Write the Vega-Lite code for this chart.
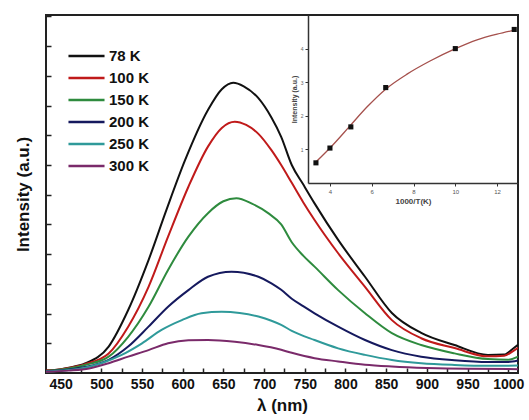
{
  "$schema": "https://vega.github.io/schema/vega-lite/v6.json",
  "width": 472,
  "height": 358,
  "autosize": {"type": "none"},
  "padding": {"left": 46, "top": 15, "right": 11, "bottom": 47},
  "background": "white",
  "config": {
    "view": {"stroke": "#222", "strokeWidth": 2},
    "font": "Liberation Sans"
  },
  "datasets": {
    "spectra": [
      {"T": "78 K", "wl": 432, "I": 0.08}, {"T": "78 K", "wl": 443, "I": 0.1}, {"T": "78 K", "wl": 460, "I": 0.18}, {"T": "78 K", "wl": 480, "I": 0.32}, {"T": "78 K", "wl": 509, "I": 0.89}, {"T": "78 K", "wl": 533, "I": 2.12}, {"T": "78 K", "wl": 558, "I": 3.8}, {"T": "78 K", "wl": 580, "I": 5.49}, {"T": "78 K", "wl": 603, "I": 7.17}, {"T": "78 K", "wl": 631, "I": 8.85}, {"T": "78 K", "wl": 648, "I": 9.55}, {"T": "78 K", "wl": 662, "I": 9.77}, {"T": "78 K", "wl": 675, "I": 9.65}, {"T": "78 K", "wl": 693, "I": 9.25}, {"T": "78 K", "wl": 709, "I": 8.6}, {"T": "78 K", "wl": 721, "I": 7.95}, {"T": "78 K", "wl": 734, "I": 7.0}, {"T": "78 K", "wl": 748, "I": 6.35}, {"T": "78 K", "wl": 762, "I": 5.71}, {"T": "78 K", "wl": 791, "I": 4.48}, {"T": "78 K", "wl": 824, "I": 3.24}, {"T": "78 K", "wl": 857, "I": 2.02}, {"T": "78 K", "wl": 893, "I": 1.35}, {"T": "78 K", "wl": 934, "I": 0.94}, {"T": "78 K", "wl": 975, "I": 0.61}, {"T": "78 K", "wl": 995, "I": 0.62}, {"T": "78 K", "wl": 1005, "I": 0.8}, {"T": "78 K", "wl": 1012, "I": 0.95},
      {"T": "100 K", "wl": 432, "I": 0.08}, {"T": "100 K", "wl": 443, "I": 0.1}, {"T": "100 K", "wl": 460, "I": 0.17}, {"T": "100 K", "wl": 480, "I": 0.3}, {"T": "100 K", "wl": 509, "I": 0.66}, {"T": "100 K", "wl": 533, "I": 1.56}, {"T": "100 K", "wl": 558, "I": 2.9}, {"T": "100 K", "wl": 582, "I": 4.59}, {"T": "100 K", "wl": 607, "I": 6.27}, {"T": "100 K", "wl": 631, "I": 7.62}, {"T": "100 K", "wl": 648, "I": 8.25}, {"T": "100 K", "wl": 664, "I": 8.46}, {"T": "100 K", "wl": 678, "I": 8.35}, {"T": "100 K", "wl": 693, "I": 8.05}, {"T": "100 K", "wl": 709, "I": 7.5}, {"T": "100 K", "wl": 721, "I": 7.0}, {"T": "100 K", "wl": 734, "I": 6.4}, {"T": "100 K", "wl": 748, "I": 5.75}, {"T": "100 K", "wl": 762, "I": 5.15}, {"T": "100 K", "wl": 791, "I": 4.03}, {"T": "100 K", "wl": 824, "I": 2.9}, {"T": "100 K", "wl": 857, "I": 1.78}, {"T": "100 K", "wl": 893, "I": 1.17}, {"T": "100 K", "wl": 934, "I": 0.84}, {"T": "100 K", "wl": 975, "I": 0.56}, {"T": "100 K", "wl": 995, "I": 0.58}, {"T": "100 K", "wl": 1005, "I": 0.72}, {"T": "100 K", "wl": 1012, "I": 0.85},
      {"T": "150 K", "wl": 432, "I": 0.07}, {"T": "150 K", "wl": 460, "I": 0.15}, {"T": "150 K", "wl": 480, "I": 0.27}, {"T": "150 K", "wl": 509, "I": 0.55}, {"T": "150 K", "wl": 533, "I": 1.22}, {"T": "150 K", "wl": 558, "I": 2.23}, {"T": "150 K", "wl": 582, "I": 3.47}, {"T": "150 K", "wl": 607, "I": 4.59}, {"T": "150 K", "wl": 631, "I": 5.38}, {"T": "150 K", "wl": 650, "I": 5.78}, {"T": "150 K", "wl": 666, "I": 5.88}, {"T": "150 K", "wl": 685, "I": 5.7}, {"T": "150 K", "wl": 705, "I": 5.38}, {"T": "150 K", "wl": 721, "I": 5.0}, {"T": "150 K", "wl": 734, "I": 4.4}, {"T": "150 K", "wl": 748, "I": 3.95}, {"T": "150 K", "wl": 762, "I": 3.58}, {"T": "150 K", "wl": 791, "I": 2.79}, {"T": "150 K", "wl": 824, "I": 2.01}, {"T": "150 K", "wl": 857, "I": 1.34}, {"T": "150 K", "wl": 893, "I": 0.94}, {"T": "150 K", "wl": 934, "I": 0.66}, {"T": "150 K", "wl": 975, "I": 0.47}, {"T": "150 K", "wl": 1000, "I": 0.45}, {"T": "150 K", "wl": 1012, "I": 0.55},
      {"T": "200 K", "wl": 432, "I": 0.06}, {"T": "200 K", "wl": 460, "I": 0.12}, {"T": "200 K", "wl": 480, "I": 0.2}, {"T": "200 K", "wl": 509, "I": 0.44}, {"T": "200 K", "wl": 533, "I": 0.89}, {"T": "200 K", "wl": 558, "I": 1.56}, {"T": "200 K", "wl": 582, "I": 2.23}, {"T": "200 K", "wl": 607, "I": 2.79}, {"T": "200 K", "wl": 631, "I": 3.24}, {"T": "200 K", "wl": 660, "I": 3.41}, {"T": "200 K", "wl": 693, "I": 3.24}, {"T": "200 K", "wl": 709, "I": 3.02}, {"T": "200 K", "wl": 721, "I": 2.8}, {"T": "200 K", "wl": 734, "I": 2.5}, {"T": "200 K", "wl": 748, "I": 2.25}, {"T": "200 K", "wl": 762, "I": 2.01}, {"T": "200 K", "wl": 791, "I": 1.56}, {"T": "200 K", "wl": 824, "I": 1.11}, {"T": "200 K", "wl": 857, "I": 0.77}, {"T": "200 K", "wl": 893, "I": 0.55}, {"T": "200 K", "wl": 934, "I": 0.43}, {"T": "200 K", "wl": 975, "I": 0.37}, {"T": "200 K", "wl": 1000, "I": 0.37}, {"T": "200 K", "wl": 1012, "I": 0.42},
      {"T": "250 K", "wl": 432, "I": 0.05}, {"T": "250 K", "wl": 460, "I": 0.1}, {"T": "250 K", "wl": 480, "I": 0.18}, {"T": "250 K", "wl": 500, "I": 0.33}, {"T": "250 K", "wl": 525, "I": 0.61}, {"T": "250 K", "wl": 550, "I": 1.0}, {"T": "250 K", "wl": 574, "I": 1.45}, {"T": "250 K", "wl": 599, "I": 1.78}, {"T": "250 K", "wl": 623, "I": 2.01}, {"T": "250 K", "wl": 648, "I": 2.06}, {"T": "250 K", "wl": 670, "I": 2.02}, {"T": "250 K", "wl": 693, "I": 1.9}, {"T": "250 K", "wl": 709, "I": 1.76}, {"T": "250 K", "wl": 721, "I": 1.62}, {"T": "250 K", "wl": 734, "I": 1.42}, {"T": "250 K", "wl": 762, "I": 1.11}, {"T": "250 K", "wl": 791, "I": 0.83}, {"T": "250 K", "wl": 824, "I": 0.61}, {"T": "250 K", "wl": 857, "I": 0.44}, {"T": "250 K", "wl": 893, "I": 0.33}, {"T": "250 K", "wl": 934, "I": 0.27}, {"T": "250 K", "wl": 975, "I": 0.24}, {"T": "250 K", "wl": 1012, "I": 0.25},
      {"T": "300 K", "wl": 432, "I": 0.04}, {"T": "300 K", "wl": 460, "I": 0.08}, {"T": "300 K", "wl": 485, "I": 0.15}, {"T": "300 K", "wl": 509, "I": 0.33}, {"T": "300 K", "wl": 533, "I": 0.55}, {"T": "300 K", "wl": 558, "I": 0.77}, {"T": "300 K", "wl": 582, "I": 1.0}, {"T": "300 K", "wl": 607, "I": 1.1}, {"T": "300 K", "wl": 631, "I": 1.11}, {"T": "300 K", "wl": 664, "I": 1.05}, {"T": "300 K", "wl": 693, "I": 0.94}, {"T": "300 K", "wl": 721, "I": 0.78}, {"T": "300 K", "wl": 734, "I": 0.68}, {"T": "300 K", "wl": 762, "I": 0.5}, {"T": "300 K", "wl": 791, "I": 0.39}, {"T": "300 K", "wl": 824, "I": 0.28}, {"T": "300 K", "wl": 857, "I": 0.22}, {"T": "300 K", "wl": 900, "I": 0.17}, {"T": "300 K", "wl": 950, "I": 0.14}, {"T": "300 K", "wl": 1012, "I": 0.13}
    ],
    "points": [
      {"invT": 3.33, "Int": 0.6}, {"invT": 4.0, "Int": 1.04}, {"invT": 5.0, "Int": 1.67}, {"invT": 6.67, "Int": 2.84}, {"invT": 10.0, "Int": 4.0}, {"invT": 12.82, "Int": 4.57}
    ],
    "fit": [
      {"invT": 3.29, "Int": 0.6}, {"invT": 4.0, "Int": 1.04}, {"invT": 4.96, "Int": 1.7}, {"invT": 5.77, "Int": 2.26}, {"invT": 6.68, "Int": 2.8}, {"invT": 7.69, "Int": 3.24}, {"invT": 8.79, "Int": 3.63}, {"invT": 9.98, "Int": 3.99}, {"invT": 11.04, "Int": 4.26}, {"invT": 12.0, "Int": 4.43}, {"invT": 12.85, "Int": 4.55}
    ]
  },
  "layer": [
    {
      "data": {"name": "spectra"},
      "mark": {"type": "line", "interpolate": "monotone", "strokeWidth": 2, "clip": true},
      "encoding": {
        "x": {
          "field": "wl", "type": "quantitative",
          "scale": {"domain": [432, 1012], "nice": false, "zero": false},
          "axis": {
            "title": "λ (nm)", "titleFontSize": 17, "titleFontWeight": "bold", "titleColor": "#111", "titlePadding": 6,
            "values": [450, 475, 500, 525, 550, 575, 600, 625, 650, 675, 700, 725, 750, 775, 800, 825, 850, 875, 900, 925, 950, 975, 1000],
            "format": "d",
            "labelExpr": "datum.value % 50 == 0 ? datum.label : ''",
            "labelFontSize": 14, "labelFontWeight": "bold", "labelColor": "#111", "labelPadding": 9,
            "tickSize": -5, "tickColor": "#222", "tickWidth": 1.5,
            "domain": false, "grid": false, "labelFlush": false, "labelOverlap": false
          }
        },
        "y": {
          "field": "I", "type": "quantitative",
          "scale": {"domain": [0, 12.05], "nice": false},
          "axis": {
            "title": "Intensity (a.u.)", "titleFontSize": 17, "titleFontWeight": "bold", "titleColor": "#111", "titlePadding": 13,
            "values": [1, 2, 3, 4, 5, 6, 7, 8, 9, 10, 11, 12],
            "labels": false, "tickSize": -5, "tickColor": "#222", "tickWidth": 1.5,
            "domain": false, "grid": false
          }
        },
        "color": {
          "field": "T", "type": "nominal",
          "scale": {
            "domain": ["78 K", "100 K", "150 K", "200 K", "250 K", "300 K"],
            "range": ["#111111", "#c01a1a", "#2e8b3e", "#15195e", "#2f9a9a", "#7a2a6a"]
          },
          "legend": {
            "title": null, "orient": "none", "legendX": 21, "legendY": 31,
            "symbolType": "stroke", "symbolSize": 1300, "symbolStrokeWidth": 2.5,
            "clipHeight": 20, "rowPadding": 2, "padding": 0, "labelOffset": 3,
            "labelFontSize": 15, "labelFontWeight": "bold", "labelColor": "#111"
          }
        }
      }
    },
    {
      "layer": [
        {
          "data": {"name": "fit"},
          "mark": {"type": "line", "interpolate": "monotone", "color": "#a5504c", "strokeWidth": 1.3},
          "encoding": {
            "x": {
              "field": "invT", "type": "quantitative",
              "scale": {"domain": [2.95, 13], "range": [262, 472], "nice": false, "zero": false},
              "axis": {
                "orient": "bottom", "offset": -190, "title": "1000/T(K)", "titleFontSize": 8, "titleFontWeight": "bold", "titleColor": "#444", "titlePadding": 3,
                "values": [4, 6, 8, 10, 12], "format": "d", "labelFontSize": 6, "labelColor": "#555", "labelPadding": 2,
                "tickSize": 3, "tickColor": "#333", "domainColor": "#333", "domainWidth": 1.5, "grid": false
              }
            },
            "y": {
              "field": "Int", "type": "quantitative",
              "scale": {"domain": [0, 5], "range": [168, 0], "nice": false},
              "axis": {
                "orient": "left", "offset": -262, "title": "Intensity (a.u.)", "titleFontSize": 7, "titleFontWeight": "bold", "titleColor": "#444", "titlePadding": 3,
                "values": [1, 2, 3, 4], "format": "d", "labelFontSize": 5, "labelColor": "#666", "labelPadding": 2,
                "tickSize": 3, "tickColor": "#333", "domainColor": "#333", "domainWidth": 1.5, "grid": false
              }
            }
          }
        },
        {
          "data": {"name": "points"},
          "mark": {"type": "point", "shape": "square", "filled": true, "color": "#111", "size": 26, "opacity": 1},
          "encoding": {
            "x": {"field": "invT", "type": "quantitative"},
            "y": {"field": "Int", "type": "quantitative"}
          }
        }
      ]
    }
  ],
  "resolve": {"scale": {"x": "independent", "y": "independent"}, "axis": {"x": "independent", "y": "independent"}}
}
